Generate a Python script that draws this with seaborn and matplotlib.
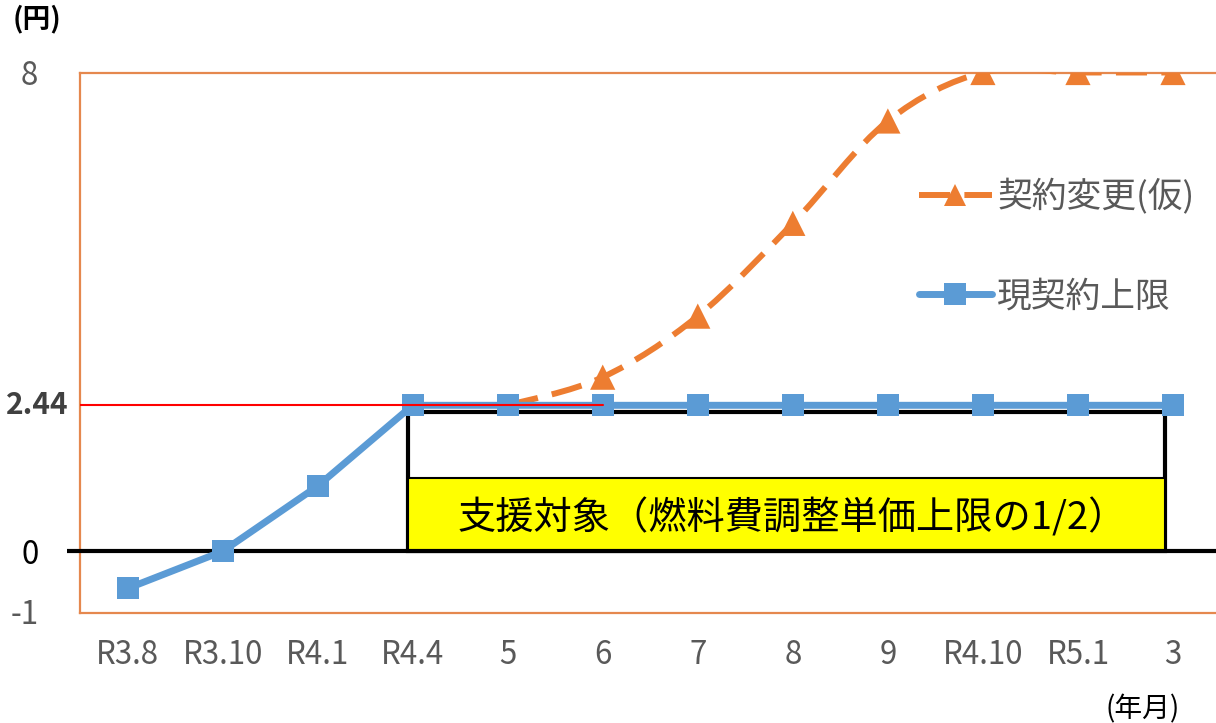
import numpy as np
import pandas as pd
import matplotlib
matplotlib.use("Agg")
import matplotlib.pyplot as plt
from matplotlib.patches import Rectangle, PathPatch
from matplotlib.path import Path
from matplotlib.lines import Line2D
import seaborn as sns

# Data
months = ["R3.8", "R3.10", "R4.1", "R4.4", "5", "6", "7", "8", "9", "R4.10", "R5.1", "3"]
current_cap = [-0.62, 0.0, 1.09, 2.44, 2.44, 2.44, 2.44, 2.44, 2.44, 2.44, 2.44, 2.44]
revised = [np.nan, np.nan, np.nan, np.nan, 2.44, 2.91, 3.93, 5.48, 7.19, 8.0, 8.0, 8.0]
cap_value = 2.44
y_ticks = [-1, 0, 8]

BLUE = "#5B9BD5"
ORANGE = "#ED7D31"
GRAY = "#595959"
DASH = (0, (5.2, 2.4))

sns.set_theme(style="white")
plt.rcParams["font.family"] = ["Noto Sans CJK JP", "DejaVu Sans"]

W, H = 1216, 723
fig = plt.figure(figsize=(W / 100, H / 100), dpi=100)
ax = fig.add_axes([80 / W, (H - 613) / H, (1220.5 - 80) / W, (613 - 72.5) / H])

x = np.arange(len(months))
df = pd.DataFrame({"x": x, "cap": current_cap, "rev": revised})

ax.set_xlim(-0.5, len(months) - 0.5)
ax.set_ylim(-1.03, 8.0)

# Support region: outer frame and yellow band (half of the cap)
x0, x1 = 2.95, 10.92
ax.add_patch(Rectangle((x0, 0), x1 - x0, 2.32, facecolor="none",
                       edgecolor="black", lw=3, zorder=2))
ax.add_patch(Rectangle((x0, 0), x1 - x0, cap_value / 2, facecolor="#FFFF00",
                       edgecolor="black", lw=1.5, zorder=2))
ax.text((x0 + x1) / 2 + 0.06, 0.55, "支援対象（燃料費調整単価上限の1/2）", ha="center",
        va="center", fontsize=27.5, color="black", zorder=3)

# Zero line, running past the plot frame on the left
ax.plot([-0.64, len(months) - 0.5], [0, 0], color="black", lw=3,
        clip_on=False, zorder=3, solid_capstyle="butt")

# Current contract cap
sns.lineplot(data=df, x="x", y="cap", ax=ax, color=BLUE, lw=5, marker="s",
             markersize=16, markeredgewidth=0, zorder=5, legend=False)

# Revised contract: smoothed dashed curve through the points
rv = df.dropna(subset=["rev"])
px, py = rv["x"].to_numpy(float), rv["rev"].to_numpy(float)
verts, codes = [(px[0], py[0])], [Path.MOVETO]
n = len(px)
for i in range(n - 1):
    p0 = np.array([px[max(i - 1, 0)], py[max(i - 1, 0)]])
    p1 = np.array([px[i], py[i]])
    p2 = np.array([px[i + 1], py[i + 1]])
    p3 = np.array([px[min(i + 2, n - 1)], py[min(i + 2, n - 1)]])
    c1 = p1 + (p2 - p0) / 6
    c2 = p2 - (p3 - p1) / 6
    verts += [tuple(c1), tuple(c2), tuple(p2)]
    codes += [Path.CURVE4] * 3
ax.add_patch(PathPatch(Path(verts, codes), fill=False, edgecolor=ORANGE, lw=4.3,
                       linestyle=DASH, capstyle="butt", zorder=4))
sns.scatterplot(data=rv.iloc[1:], x="x", y="rev", ax=ax, color=ORANGE, marker="^",
                s=330, edgecolor="none", zorder=6, legend=False)

# Cap reference line
ax.plot([-0.5, 5], [cap_value, cap_value], color="red", lw=1.5, zorder=7)

# Axes styling
for side in ["left", "bottom", "top"]:
    ax.spines[side].set_color("#E5884E")
    ax.spines[side].set_linewidth(1.6)
ax.spines["right"].set_visible(False)
ax.set_xticks(x)
ax.set_xticklabels(months, fontsize=22.5, color=GRAY)
ax.set_yticks(y_ticks)
ax.set_yticklabels([str(v) for v in y_ticks], fontsize=22.5)
for lbl, c in zip(ax.get_yticklabels(), [GRAY, "black", GRAY]):
    lbl.set_color(c)
ax.tick_params(axis="x", length=0, pad=19)
ax.tick_params(axis="y", length=0, pad=30)
ax.set_xlabel("")
ax.set_ylabel("")
ax.grid(False)

ax.text(-0.01, cap_value, f"{cap_value:.2f}", transform=ax.get_yaxis_transform(),
        ha="right", va="center", fontsize=21.5, fontweight="bold", color="#404040")

fig.text(13 / W, 1 - 19 / H, "(円)", ha="left", va="center", fontsize=20,
         fontweight="bold", color="black")
fig.text(1143 / W, 1 - 709 / H, "(年月)", ha="center", va="center", fontsize=20,
         color="black")

handles = [
    Line2D([], [], color=ORANGE, lw=4.3, linestyle=DASH, marker="^",
           markersize=16, markeredgewidth=0),
    Line2D([], [], color=BLUE, lw=5, marker="s", markersize=16, markeredgewidth=0,
           solid_capstyle="round"),
]
leg = ax.legend(handles, ["契約変更(仮)", "現契約上限"], loc="upper left",
                bbox_to_anchor=(919 / W, 1 - 179 / H), bbox_transform=fig.transFigure,
                frameon=False, fontsize=25, handlelength=2.1, handletextpad=0.15,
                labelspacing=1.85, borderaxespad=0, borderpad=0)
for t in leg.get_texts():
    t.set_color(GRAY)

fig.savefig("out.png", dpi=100)
